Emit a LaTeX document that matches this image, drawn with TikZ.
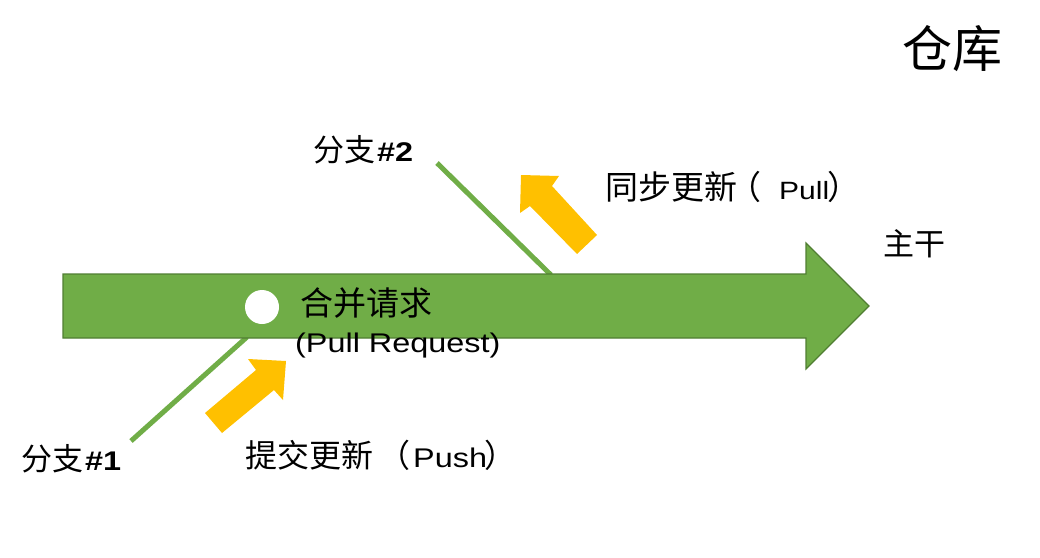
\documentclass[tikz,border=0pt]{standalone}
\usepackage{fontspec}
\setmainfont{Liberation Sans}
\newfontfamily\cjk{Noto Sans CJK SC}
\newfontfamily\latin[FakeStretch=1.2]{Liberation Sans}
\definecolor{trunkgreen}{HTML}{70AD47}
\definecolor{trunkedge}{HTML}{507E32}
\definecolor{flowyellow}{HTML}{FFC000}
\newcommand{\zh}[2]{{\cjk\fontsize{#1}{#1}\selectfont #2}}
\newcommand{\lt}[2]{{\latin\fontsize{#1}{#1}\selectfont #2}}
\begin{document}
\begin{tikzpicture}[x=1pt,y=-1pt,
  lbl/.style={anchor=base west,inner sep=0pt,text=black},
  branchline/.style={draw=trunkgreen,line width=5pt},
  flow/.style={fill=flowyellow,draw=none}]
\useasboundingbox (0,0) rectangle (1040,557);
% branch lines
\coordinate (b1s) at (131,441);
\coordinate (b1e) at (247,337);
\coordinate (b2s) at (437,163);
\coordinate (b2e) at (551,275);
\draw[branchline] (b1s) -- (b1e);
\draw[branchline] (b2s) -- (b2e);
% trunk arrow
\fill[trunkgreen,draw=trunkedge,line width=1.2pt,line join=miter]
  (63,274) -- (806,274) -- (806,243) -- (869,306) -- (806,369) -- (806,338) -- (63,338) -- cycle;
% merge point
\fill[white] (262,307) circle (17);
% yellow flow arrows
\fill[flow] (205,413) -- (256,370) -- (248,359) -- (286,361) -- (283,400) -- (274,390) -- (222,433) -- cycle;
\fill[flow] (577,254) -- (530,206) -- (520,213) -- (521,175) -- (559,176) -- (552,186) -- (597,235) -- cycle;
% labels
\node[lbl] (repo) at (902,67) {\zh{50}{仓库}};
\node[lbl] (br2) at (313,161) {\zh{31}{分支}\hspace{2pt}\lt{27}{\bfseries\#2}};
\node[lbl] (pull) at (605,199) {\zh{33}{同步更新}\hspace{-9pt}\zh{33}{（}\hspace{18pt}\lt{25}{Pull}\hspace{-2pt}\zh{33}{）}};
\node[lbl] (trunk) at (883,255) {\zh{31}{主干}};
\node[lbl] (merge) at (300,315) {\zh{33}{合并请求}};
\node[lbl] (pr) at (295,352) {\lt{27}{(Pull Request)}};
\node[lbl] (push) at (245,467) {\zh{32}{提交更新}\hspace{5pt}\zh{32}{（}\hspace{3pt}\lt{27}{Push}\hspace{-3pt}\zh{32}{）}};
\node[lbl] (br1) at (21,470) {\zh{31}{分支}\hspace{2pt}\lt{27}{\bfseries\#1}};
\end{tikzpicture}
\end{document}
